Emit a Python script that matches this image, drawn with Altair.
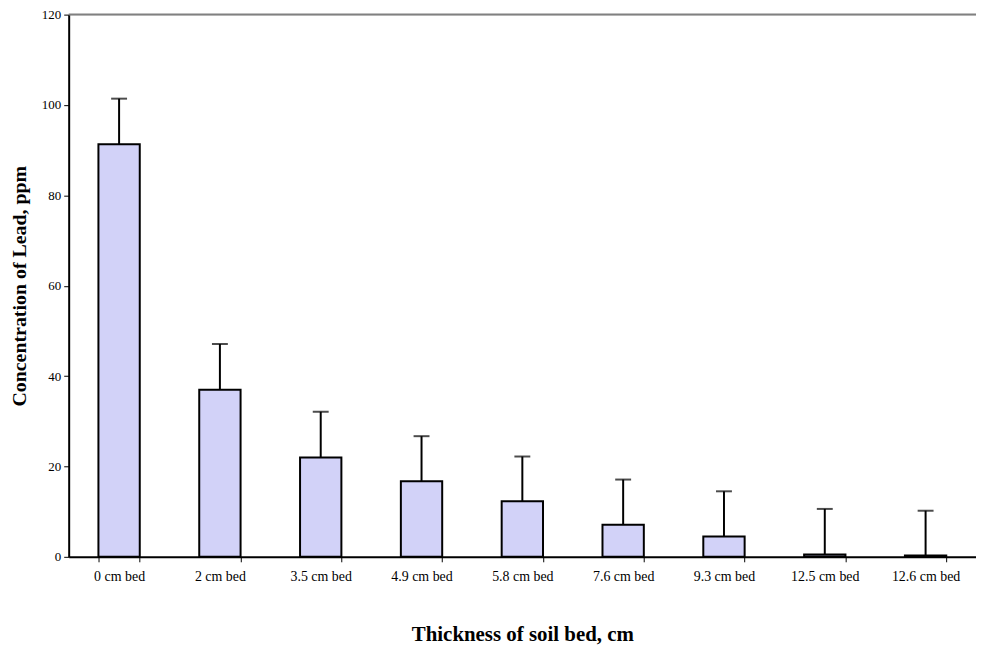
import altair as alt
import pandas as pd

categories = ["0 cm bed", "2 cm bed", "3.5 cm bed", "4.9 cm bed", "5.8 cm bed",
              "7.6 cm bed", "9.3 cm bed", "12.5 cm bed", "12.6 cm bed"]
values = [91.3, 37.0, 22.0, 16.7, 12.3, 7.1, 4.5, 0.5, 0.3]
errors = [10.1, 10.1, 10.1, 10.0, 9.9, 10.0, 10.0, 10.1, 9.9]

df = pd.DataFrame({"cat": categories, "val": values, "err": errors})
df["top"] = df["val"] + df["err"]

FONT = "Liberation Serif"

x_enc = alt.X("cat:N", sort=categories, title="Thickness of soil bed, cm",
              scale=alt.Scale(paddingInner=0.59, paddingOuter=0.295),
              axis=alt.Axis(labelAngle=0, labelFont=FONT, labelFontSize=14,
                            labelColor="black", domainColor="black", domainWidth=2,
                            tickColor="black", tickSize=5, tickWidth=1, tickBand="extent",
                            labelPadding=8, titleFont=FONT, titleFontSize=21,
                            titleFontWeight="bold", titleColor="black", titlePadding=40))
y_scale = alt.Scale(domain=[0, 120], nice=False)

bars = alt.Chart(df).mark_bar(fill="#d2d2f8", stroke="black", strokeWidth=2).encode(
    x=x_enc,
    y=alt.Y("val:Q", scale=y_scale, title="Concentration of Lead, ppm",
            axis=alt.Axis(values=[0, 20, 40, 60, 80, 100, 120], grid=False,
                          labelFont=FONT, labelFontSize=13, labelColor="black",
                          domainColor="black", domainWidth=2, tickColor="black",
                          tickSize=5, labelPadding=3, titleFont=FONT, titleFontSize=20,
                          titleFontWeight="bold", titleColor="black", titlePadding=12)),
)

rules = alt.Chart(df).mark_rule(color="black", strokeWidth=2).encode(
    x=alt.X("cat:N", sort=categories),
    y=alt.Y("val:Q", scale=y_scale),
    y2="top:Q",
)

caps = alt.Chart(df).mark_tick(color="black", thickness=2, size=16).encode(
    x=alt.X("cat:N", sort=categories),
    y=alt.Y("top:Q", scale=y_scale),
)

top_line = alt.Chart(pd.DataFrame({"y": [120]})).mark_rule(color="#808080", strokeWidth=2).encode(
    y=alt.Y("y:Q", scale=y_scale),
)

chart = alt.layer(bars, rules, caps, top_line).properties(
    width=912, height=545,
    autosize=alt.AutoSizeParams(type="none"),
    padding={"left": 61, "top": 5, "right": 0, "bottom": 90},
).configure_view(stroke=None).configure(background="white")

chart.save("out.html", embed_options={"renderer": "svg", "actions": False})
